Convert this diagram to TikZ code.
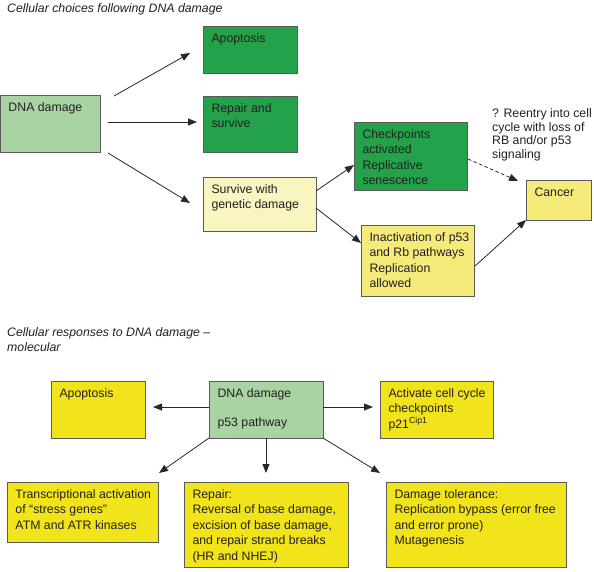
\documentclass[tikz,border=0pt]{standalone}
\usepackage{fontspec}
\setmainfont{Liberation Sans}
\usetikzlibrary{arrows.meta,calc}
\definecolor{lgreen}{RGB}{169,211,163}
\definecolor{dgreen}{RGB}{36,162,74}
\definecolor{lyellow}{RGB}{249,245,192}
\definecolor{myellow}{RGB}{245,235,122}
\definecolor{byellow}{RGB}{242,228,26}
\definecolor{bordergray}{RGB}{90,90,90}
\definecolor{txt}{RGB}{35,31,32}
\definecolor{arrowgray}{RGB}{40,40,40}
\newcommand\boxfmt{\leftskip=8.5pt\rightskip=0pt plus 1fil\parindent=0pt\hbadness=10000\hfuzz=50pt\fontsize{12.3}{15.6}\selectfont\color{txt}}
\newcommand\mkbox[7]{\node[boxst, fill=#6, anchor=north west] (#1) at (#2,#3)
  {\parbox[c][#5pt][t]{#4pt}{\boxfmt\rule{0pt}{16pt}#7}};}
\tikzset{
  boxst/.style={draw=bordergray, line width=0.9pt, inner sep=0pt, outer sep=0pt},
  arr/.style={draw=arrowgray, line width=0.8pt, -{Triangle[length=9pt,width=7pt]}},
  dasharr/.style={arr, dash pattern=on 3.5pt off 2.5pt},
  title/.style={anchor=north west, inner sep=0pt, align=left, text=txt,
    font=\fontsize{12.3}{15.6}\selectfont\itshape},
  note/.style={anchor=north west, inner sep=0pt, align=left, text=txt,
    font=\fontsize{12.3}{13.9}\selectfont}
}
\begin{document}
\begin{tikzpicture}[x=1pt,y=-1pt]
\useasboundingbox (0,0) rectangle (594,571);
% ---- top section ----
\node[title] (t1) at (7,3) {Cellular choices following DNA damage};
\mkbox{dna}{0}{95}{100}{57}{lgreen}{DNA damage}
\mkbox{apo}{203}{26}{94}{47}{dgreen}{Apoptosis}
\mkbox{rep}{203}{96}{94}{56}{dgreen}{Repair and\\survive}
\mkbox{surv}{203}{177}{113}{54}{lyellow}{Survive with\\genetic damage}
\mkbox{chk}{354}{122}{113}{68}{dgreen}{Checkpoints\\activated\\Replicative\\senescence}
\mkbox{inact}{361}{225}{113}{71}{myellow}{Inactivation of p53\\and Rb pathways\\Replication\\allowed}
\mkbox{cancer}{526}{180}{65}{40}{myellow}{Cancer}
\node[note] (reentry) at (492,108) {? Reentry into cell\\cycle with loss of\\RB and/or p53\\signaling};

\draw[arr] ($(dna.north east)+(14,1)$) -- ($(apo.west)+(-13,3.5)$);
\draw[arr] ($(dna.east)+(8,-1.5)$) -- ($(dna.east -| rep.west)+(-6,-1.5)$);
\draw[arr] ($(dna.south east)+(8,1)$) -- ($(surv.west)+(-13,-1)$);
\draw[arr] ($(surv.north east)+(0,14)$) -- ($(chk.west)+(0,9)$);
\draw[arr] ($(surv.north east)+(0,31)$) -- ($(inact.north west)+(0,18)$);
\draw[dasharr] ($(chk.east)+(1,3)$) -- ($(cancer.north west)+(-8,1)$);
\draw[arr] ($(inact.east)+(1,5.5)$) -- (cancer.south west);

% ---- bottom section ----
\node[title] (t2) at (7,327) {Cellular responses to DNA damage --\\molecular};
\mkbox{bapo}{51}{381}{94}{57}{byellow}{Apoptosis}
\mkbox{bdna}{209}{381}{114}{57}{lgreen}{DNA damage\\[13.5pt]p53 pathway}
\mkbox{bact}{380}{381}{113}{57}{byellow}{Activate cell cycle\\checkpoints\\p21\textsuperscript{\fontsize{8.8}{10}\selectfont Cip1}}
\mkbox{trans}{7}{482}{151}{60}{byellow}{Transcriptional activation\\of \textquotedblleft stress genes\textquotedblright\\ATM and ATR kinases}
\mkbox{brep}{184}{482}{164}{85}{byellow}{Repair:\\Reversal of base damage,\\excision of base damage,\\and repair strand breaks\\(HR and NHEJ)}
\mkbox{dtol}{386}{482}{180}{85}{byellow}{Damage tolerance:\\Replication bypass (error free\\and error prone)\\Mutagenesis}

\draw[arr] ($(bdna.west)+(0,-2.5)$) -- ($(bapo.east)+(8,-2.5)$);
\draw[arr] ($(bdna.east)+(0,-2.5)$) -- ($(bact.west)+(-7,-2.5)$);
\draw[arr] (bdna.south west) -- ($(trans.north east)+(1,-9)$);
\draw[arr] (bdna.south) -- ($(brep.north)+(0,-9)$);
\draw[arr] (bdna.south east) -- ($(dtol.north west)+(-6,-9)$);
\end{tikzpicture}
\end{document}
